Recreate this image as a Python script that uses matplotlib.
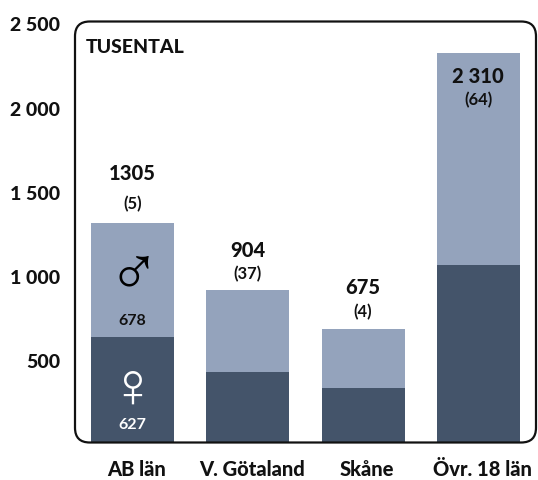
import numpy as np
import matplotlib
matplotlib.use("Agg")
from matplotlib import pyplot as plt
from matplotlib.patches import FancyBboxPatch
from matplotlib.transforms import ScaledTranslation

regions = ["AB län", "V. Götaland", "Skåne", "Övr. 18 län"]
women = [627, 421, 321, 1057]
men = [678, 483, 354, 1253]
totals = [1305, 904, 675, 2310]
total_labels = ["1305", "904", "675", "2 310"]
count_labels = ["(5)", "(37)", "(4)", "(64)"]
yticks = [500, 1000, 1500, 2000, 2500]
ytick_labels = ["500", "1 000", "1 500", "2 000", "2 500"]

DARK = "#44546A"
LIGHT = "#94A3BC"
TEXT = "#111111"
W, H = 538, 481

plt.rcParams["font.family"] = ["Lato", "DejaVu Sans"]

fig = plt.figure(figsize=(W / 100, H / 100), dpi=100)
ax = fig.add_axes([75 / W, 1 - 443.5 / H, 461 / W, 421 / H])

x = np.arange(len(regions))
ax.bar(x, women, width=0.72, color=DARK)
ax.bar(x, men, width=0.72, bottom=women, color=LIGHT)
ax.set_xlim(-0.5, 3.5)
ax.set_ylim(0, 2500)

for side in ax.spines.values():
    side.set_visible(False)
ax.patch.set_visible(False)

# rounded frame, same corner radius in both directions
frame = FancyBboxPatch((0, 0), 1, 1, boxstyle="round,pad=0,rounding_size=0.032",
                       mutation_aspect=461 / 421, transform=ax.transAxes,
                       fill=False, edgecolor="#111111", linewidth=1.6,
                       clip_on=False, zorder=5)
ax.add_patch(frame)

ax.set_xticks(x, regions, fontsize=14.5, fontweight="black", color=TEXT)
ax.set_yticks(yticks, ytick_labels, fontsize=14, fontweight="black", color=TEXT)
ax.tick_params(axis="both", length=0)
ax.tick_params(axis="x", pad=12)
ax.tick_params(axis="y", pad=10.8)
shift = ScaledTranslation(0, -2 / 100, fig.dpi_scale_trans)
for lab in ax.get_yticklabels():
    lab.set_transform(lab.get_transform() + shift)
# category labels sit a little right of the bars
shift_x = ScaledTranslation(4 / 100, 0, fig.dpi_scale_trans)
for lab in ax.get_xticklabels():
    lab.set_transform(lab.get_transform() + shift_x)

# label offsets from bar top, in pixels
total_off = [50, 41, 42, -22]
count_off = [20, 17, 18, -46]
for i in range(len(regions)):
    ax.annotate(total_labels[i], (x[i], totals[i]), xytext=(0, total_off[i] * 0.72),
                textcoords="offset points", ha="center", va="center",
                fontsize=14.5, fontweight="black", color=TEXT)
    ax.annotate(count_labels[i], (x[i], totals[i]), xytext=(0, count_off[i] * 0.72),
                textcoords="offset points", ha="center", va="center",
                fontsize=12, fontweight="bold", color=TEXT)

ax.text(0.023, 0.941, "TUSENTAL", transform=ax.transAxes, ha="left", va="center",
        fontsize=14, fontweight="black", color=TEXT)

# values and symbols inside first bar
ax.annotate(str(men[0]), (x[0], women[0]), xytext=(0, 12), textcoords="offset points",
            ha="center", va="center", fontsize=11.5, fontweight="bold", color=TEXT)
ax.annotate(str(women[0]), (x[0], 0), xytext=(0, 13), textcoords="offset points",
            ha="center", va="center", fontsize=11.5, fontweight="bold", color="white")
ax.annotate("♂", (x[0], women[0]), xytext=(1, 44), textcoords="offset points",
            ha="center", va="center", fontsize=50, color="black", family="Liberation Sans")
ax.annotate("♀", (x[0], 0), xytext=(0, 39), textcoords="offset points",
            ha="center", va="center", fontsize=46, color="white", family="Liberation Sans")

fig.savefig("out.png", dpi=100)
